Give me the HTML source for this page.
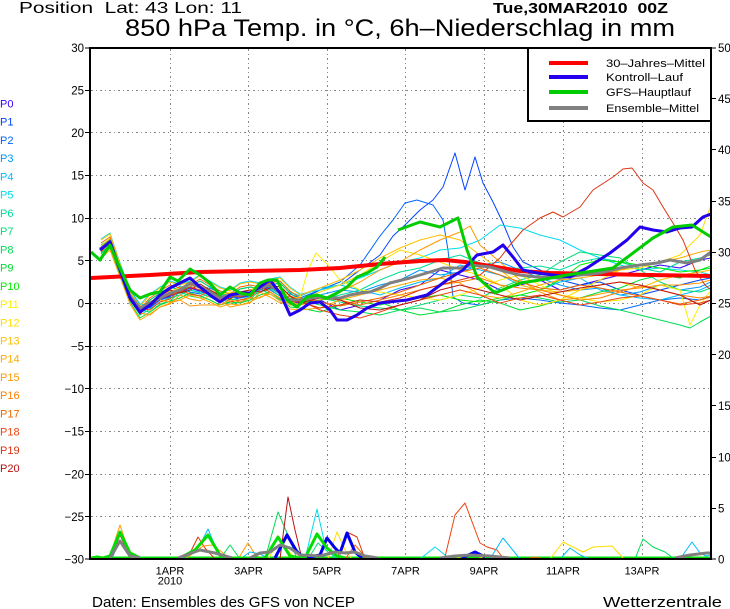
<!DOCTYPE html>
<html><head><meta charset="utf-8"><style>
html,body{margin:0;padding:0;background:#fff;}
svg{display:block;font-family:"Liberation Sans",sans-serif;}
</style></head><body>
<svg width="730" height="609" viewBox="0 0 730 609" xmlns="http://www.w3.org/2000/svg">
<rect width="730" height="609" fill="#fff"/>
<defs>
<clipPath id="pc"><rect x="91" y="49" width="620" height="510"/></clipPath>
<polyline id="ea" fill="none" points="101,249 110,241 120,268 130,295 140,311 150,305 160,298 170,294 180,291 190,286 200,289 210,293 220,298 230,295 240,296 250,293 260,288 270,285 280,292 290,300 300,301"/>
<polyline id="eb" fill="none" points="101,248 110,242 120,272 130,300 140,314 150,303 160,296 170,290 180,293 190,290 200,284 210,290 220,296 230,299 240,292 250,290 260,292 270,288 280,286 290,296 300,303"/>
<polyline id="ec" fill="none" points="101,250 110,240 120,265 130,292 140,306 150,308 160,300 170,297 180,288 190,292 200,294 210,288 220,293 230,300 240,298 250,296 260,285 270,290 280,296 290,294 300,298"/>
</defs>

<!-- header texts -->
<text x="19" y="13" font-size="16" textLength="223" lengthAdjust="spacingAndGlyphs">Position&#160;&#160;Lat: 43 Lon: 11</text>
<text x="493" y="13" font-size="15" font-weight="bold" textLength="175" lengthAdjust="spacingAndGlyphs">Tue,30MAR2010&#160;&#160;00Z</text>
<text x="125" y="36" font-size="24" textLength="550" lengthAdjust="spacingAndGlyphs">850 hPa Temp. in °C, 6h–Niederschlag in mm</text>

<!-- grid -->
<g stroke="#888" stroke-width="1" stroke-dasharray="2,3,1,3" fill="none">
<line x1="91" y1="90.5" x2="711" y2="90.5"/>
<line x1="91" y1="132.5" x2="711" y2="132.5"/>
<line x1="91" y1="175.5" x2="711" y2="175.5"/>
<line x1="91" y1="218.5" x2="711" y2="218.5"/>
<line x1="91" y1="260.5" x2="711" y2="260.5"/>
<line x1="91" y1="303.5" x2="711" y2="303.5"/>
<line x1="91" y1="346.5" x2="711" y2="346.5"/>
<line x1="91" y1="388.5" x2="711" y2="388.5"/>
<line x1="91" y1="431.5" x2="711" y2="431.5"/>
<line x1="91" y1="474.5" x2="711" y2="474.5"/>
<line x1="91" y1="516.5" x2="711" y2="516.5"/>
<line x1="170.5" y1="49" x2="170.5" y2="559"/>
<line x1="248.5" y1="49" x2="248.5" y2="559"/>
<line x1="327.5" y1="49" x2="327.5" y2="559"/>
<line x1="405.5" y1="49" x2="405.5" y2="559"/>
<line x1="484.5" y1="49" x2="484.5" y2="559"/>
<line x1="563.5" y1="49" x2="563.5" y2="559"/>
<line x1="642.5" y1="49" x2="642.5" y2="559"/>
</g>

<g clip-path="url(#pc)" fill="none" stroke-linejoin="round">
<!-- ensemble members: early parts -->
<g stroke-width="1">
<use href="#ea" transform="translate(0,2)" stroke="#3300ff"/>
<use href="#eb" transform="translate(0,-3)" stroke="#0044ff"/>
<use href="#ec" transform="translate(0,0)" stroke="#0066ff"/>
<use href="#ea" transform="translate(0,-1)" stroke="#0099ff"/>
<use href="#ec" transform="translate(0,-2)" stroke="#00bbff"/>
<use href="#eb" transform="translate(0,-9)" stroke="#00ddee"/>
<use href="#ea" transform="translate(0,4)" stroke="#00dd99"/>
<use href="#ec" transform="translate(0,4)" stroke="#00dd77"/>
<use href="#eb" transform="translate(0,-3)" stroke="#00dd55"/>
<use href="#ea" transform="translate(0,7)" stroke="#00dd33"/>
<use href="#eb" transform="translate(0,0)" stroke="#00ee00"/>
<use href="#ea" transform="translate(0,-3)" stroke="#ffee00"/>
<use href="#ec" transform="translate(0,2)" stroke="#ffdd00"/>
<use href="#eb" transform="translate(0,-8)" stroke="#ffc000"/>
<use href="#ea" transform="translate(0,9)" stroke="#ffaa00"/>
<use href="#ec" transform="translate(0,7)" stroke="#ff9900"/>
<use href="#ea" transform="translate(0,-1)" stroke="#ff8000"/>
<use href="#eb" transform="translate(0,-5)" stroke="#ee6600"/>
<use href="#ec" transform="translate(0,2)" stroke="#ee4411"/>
<use href="#ea" transform="translate(0,1)" stroke="#dd3311"/>
<use href="#eb" transform="translate(0,0)" stroke="#bb1111"/>
<polyline stroke="#ff9900" points="160,300 170,302 180,300 190,306 200,305 210,305 220,305 230,300 240,302 250,298 260,298 270,292 280,298 290,305 300,305"/>

<!-- late parts -->
<polyline stroke="#3300ff" points="300,303 320,300 340,310 360,305 380,300 400,290 420,285 440,270 460,275 480,280 500,290 520,285 540,280 560,290 580,285 600,280 620,275 640,270 660,265 680,268 700,260 711,258"/>
<polyline stroke="#0044ff" points="300,300 320,290 340,285 360,270 380,255 393,236 405,225 420,210 433,200 443,187 455,153 465,190 475,157 483,183 493,202 503,223 513,247 523,262 540,270 560,280 580,285 600,282 620,290 640,295 660,290 680,285 700,280 711,278"/>
<polyline stroke="#0066ff" points="300,298 320,290 340,282 360,265 380,236 393,220 405,203 417,200 433,205 443,220 448,250 453,297 463,303 480,305 500,300 520,298 540,300 560,303 580,305 600,308 620,310 640,305 660,300 680,298 700,300 711,296"/>
<polyline stroke="#0099ff" points="300,300 320,295 340,290 360,292 380,285 400,280 420,270 440,275 460,272 480,265 500,262 520,270 540,278 560,285 580,290 600,288 620,295 640,292 660,285 680,290 700,287 711,282"/>
<polyline stroke="#00bbff" points="300,296 320,288 340,285 360,290 380,295 400,288 420,282 440,278 460,265 480,270 500,275 520,285 540,290 560,282 580,278 600,290 620,295 640,298 660,300 680,295 700,290 711,285"/>
<polyline stroke="#00ddee" points="300,294 320,290 340,285 360,278 380,270 400,262 420,258 440,250 460,248 480,240 500,225 520,228 540,235 560,240 580,250 600,258 620,265 640,270 660,268 680,270 700,272 711,275"/>
<polyline stroke="#00dd99" points="300,305 320,300 340,295 360,290 380,280 400,272 420,268 440,260 460,255 480,263 500,270 520,268 540,266 560,270 580,262 600,258 620,262 640,268 660,272 680,262 700,258 711,255"/>
<polyline stroke="#00dd77" points="300,302 320,298 340,302 360,306 380,308 400,310 420,305 440,300 460,295 480,298 500,288 520,280 540,275 560,262 580,252 600,255 620,258 640,270 660,282 680,290 700,292 711,288"/>
<polyline stroke="#00dd55" points="300,300 320,305 340,310 360,312 380,315 400,310 420,308 440,312 460,310 480,305 500,300 520,295 540,298 560,302 580,300 600,306 620,310 640,315 660,320 680,325 690,328 700,322 711,316"/>
<polyline stroke="#00dd33" points="300,308 320,312 340,305 360,300 380,302 400,310 420,315 440,312 460,305 480,300 500,303 520,310 540,306 560,300 580,298 600,292 620,288 640,280 660,275 680,278 700,270 711,268"/>
<polyline stroke="#00ee00" points="300,303 320,300 340,298 360,302 380,305 400,300 420,298 440,295 460,300 480,302 500,298 520,295 540,290 560,280 580,265 600,260 620,262 640,265 660,268 680,272 700,270 711,266"/>
<polyline stroke="#ffee00" points="300,298 308,270 316,253 328,265 340,280 360,290 380,292 400,295 420,298 440,300 460,295 480,288 500,280 520,275 540,285 560,295 580,298 600,302 620,300 640,295 660,285 680,290 690,325 700,305 711,290"/>
<polyline stroke="#ffdd00" points="300,300 320,292 340,285 360,275 380,262 400,250 420,255 440,262 460,270 480,275 500,285 520,300 540,305 560,300 580,290 600,280 620,270 640,268 660,262 680,255 700,235 711,205"/>
<polyline stroke="#ffc000" points="300,295 320,288 340,280 360,270 380,258 400,248 420,240 440,235 460,240 480,255 500,270 520,285 540,290 560,292 580,290 600,285 620,282 640,288 660,280 680,275 700,272 711,270"/>
<polyline stroke="#ffaa00" points="300,310 320,308 340,300 360,295 380,290 400,285 420,280 440,278 460,283 480,295 500,298 520,292 540,285 560,280 580,278 600,275 620,270 640,265 660,262 680,258 700,252 711,250"/>
<polyline stroke="#ff9900" points="300,305 320,300 340,292 360,282 380,270 400,262 420,250 440,240 460,232 470,226 480,245 500,262 520,280 540,292 560,300 580,298 600,294 620,290 640,288 660,285 680,285 700,283 711,280"/>
<polyline stroke="#ff8000" points="300,300 320,296 340,300 360,305 380,300 400,295 420,290 440,285 460,282 480,278 500,285 520,288 540,290 560,295 580,300 600,298 620,292 640,286 660,290 680,295 700,298 711,296"/>
<polyline stroke="#ee6600" points="300,298 320,302 340,306 360,302 380,298 400,292 420,285 440,278 460,272 480,268 500,275 520,282 540,288 560,290 580,285 600,288 620,292 640,296 660,300 680,304 700,300 711,297"/>
<polyline stroke="#ee4411" points="300,300 320,310 340,315 360,318 380,312 400,305 420,300 440,295 460,290 480,295 500,303 520,298 540,295 560,300 580,305 600,302 620,298 640,296 660,300 680,305 700,303 711,300"/>
<polyline stroke="#dd3311" points="300,302 320,308 340,305 360,300 380,302 400,298 420,290 440,285 460,280 480,275 500,258 510,245 523,230 540,218 553,212 563,217 580,207 593,190 613,177 623,169 632,168 643,183 653,190 663,207 673,223 683,240 695,270 705,285 711,290"/>
<polyline stroke="#bb1111" points="300,303 320,298 340,300 360,308 380,310 400,305 420,300 440,290 460,285 480,290 500,295 520,300 540,296 560,292 580,288 600,285 620,282 640,285 660,290 680,295 700,305 711,300"/>
</g>

<!-- precipitation baseline lines -->
<line x1="91" y1="558" x2="711" y2="558" stroke="#0000ee" stroke-width="3"/>
<line x1="91" y1="558" x2="711" y2="558" stroke="#00dd00" stroke-width="3"/>

<!-- precipitation spikes (thin) -->
<g stroke-width="1">
<polyline stroke="#ff9900" points="100,559 110,556 120,525 130,555 140,559"/>
<polyline stroke="#bb1111" points="103,559 112,555 120,535 128,552 138,559"/>
<polyline stroke="#00bbff" points="105,559 113,556 120,540 128,554 136,559"/>
<polyline stroke="#00dd77" points="91,559 97,556 103,558 110,559"/>
<polyline stroke="#dd3311" points="180,559 190,553 198,537 205,548 215,559"/>
<polyline stroke="#00bbff" points="185,559 200,545 208,529 218,553 225,559"/>
<polyline stroke="#ff9900" points="185,559 195,552 203,546 212,545 222,552 230,559"/>
<polyline stroke="#00dd55" points="220,559 230,545 240,559"/>
<polyline stroke="#ff9900" points="238,559 248,543 256,556 265,559"/>
<polyline stroke="#00bbff" points="240,559 250,552 260,554 270,559"/>
<polyline stroke="#00dd55" points="265,559 278,512 290,540 297,559"/>
<polyline stroke="#0066ff" points="275,558 287,533 297,550 305,559"/>
<polyline stroke="#bb1111" points="280,559 288,497 295,530 302,559"/>
<polyline stroke="#ffdd00" points="268,559 275,548 283,545 292,555 300,559"/>
<polyline stroke="#00ddee" points="305,559 317,509 325,545 335,559"/>
<polyline stroke="#00dd77" points="308,559 318,543 328,552 338,559"/>
<polyline stroke="#ffdd00" points="328,559 337,532 345,550 352,559"/>
<polyline stroke="#dd3311" points="338,556 347,532 357,537 365,559"/>
<polyline stroke="#ee6600" points="345,559 355,545 362,553 370,559"/>
<polyline stroke="#00ddee" points="420,559 435,547 450,559"/>
<polyline stroke="#ee4411" points="440,559 445,557 455,515 465,503 480,543 487,547 497,550 503,558"/>
<polyline stroke="#ffdd00" points="455,559 465,555 475,555 485,559"/>
<polyline stroke="#00bbff" points="490,559 503,538 520,559"/>
<polyline stroke="#ee6600" points="525,559 535,557 545,559"/>
<polyline stroke="#ffdd00" points="550,559 563,542 575,548 583,552 593,547 612,546 623,558"/>
<polyline stroke="#00bbff" points="560,559 570,548 580,555 590,559"/>
<polyline stroke="#00dd55" points="635,559 643,539 653,547 665,552 673,558 680,559"/>
<polyline stroke="#00bbff" points="680,559 692,542 700,553 706,556 711,555"/>
</g>
<!-- precipitation thick -->
<polyline stroke="#0000ee" stroke-width="3" points="275,558 287,535 297,552 305,558 320,555 327,538 335,548 340,553 347,533 355,552 362,558"/>
<polyline stroke="#0000ee" stroke-width="3" points="462,558 475,552 485,557"/>
<polyline stroke="#00dd00" stroke-width="3" points="91,558 97,557 103,558 110,556 120,532 130,553 140,558 180,558 195,550 208,535 220,555 228,558 265,558 278,537 290,556 300,558 305,558 317,534 327,548 337,556 345,558"/>
<polyline stroke="#808080" stroke-width="3" points="110,558 120,541 130,556 140,558"/>
<polyline stroke="#808080" stroke-width="3" points="178,558 200,550 215,553 232,558"/>
<polyline stroke="#808080" stroke-width="3" points="250,558 260,553 270,552 280,545 290,548 300,555 320,556 335,552 345,553 355,552 365,556 378,558"/>
<polyline stroke="#808080" stroke-width="3" points="440,558 455,556 470,555 490,556 510,558"/>
<polyline stroke="#808080" stroke-width="3" points="675,558 690,555 707,553 711,553"/>

<!-- thick main lines -->
<polyline stroke="#ff0000" stroke-width="4" points="91,278 150,275 200,272 250,271 300,270 340,268 380,264 420,261 445,260 465,262 490,266 520,271 550,273 600,274 650,275 711,276"/>
<polyline stroke="#808080" stroke-width="3" points="100,249 110,241 120,270 130,296 140,308 150,303 160,298 170,293 180,290 190,283 200,287 210,292 220,298 230,295 240,295 250,293 260,288 270,285 280,293 290,300 300,300 310,298 320,297 330,298 340,298 350,295 360,293 370,292 380,288 390,283 410,278 430,272 443,268 460,268 470,265 490,267 507,272 520,275 537,277 560,278 580,275 600,273 620,268 640,265 657,263 670,260 687,263 700,260 711,252"/>
<polyline stroke="#2200ee" stroke-width="3" points="100,250 110,242 120,270 130,298 140,312 150,305 160,295 170,288 180,283 190,278 200,287 210,295 220,302 230,295 240,293 250,293 260,287 270,280 280,293 290,315 300,310 310,303 320,302 330,310 337,320 347,320 357,315 367,308 380,303 407,300 427,295 447,280 463,270 477,255 493,252 503,245 513,257 523,270 537,273 553,275 570,277 587,268 610,253 627,240 640,227 653,230 667,232 680,228 692,227 703,217 711,214"/>
<polyline stroke="#00cc00" stroke-width="3" points="91,252 100,260 110,245 120,268 130,290 140,298 150,294 160,292 170,277 178,281 190,269 200,275 210,283 220,295 230,287 240,293 250,295 260,283 268,280 277,280 287,300 297,307 307,297 317,295 327,298 337,293 347,287 357,277 367,273 377,267 385,257"/>
<polyline stroke="#00cc00" stroke-width="3" points="398,230 420,222 440,227 458,218 467,250 477,277 495,293 520,283 540,280 567,275 587,272 613,268 633,253 653,238 673,227 692,225 711,237"/>
</g>

<!-- legend -->
<rect x="528" y="48" width="183" height="73" fill="#fff" stroke="#000" stroke-width="2"/>
<g stroke-width="4">
<line x1="549" y1="63" x2="588" y2="63" stroke="#ff0000"/>
<line x1="549" y1="77" x2="588" y2="77" stroke="#2200ee"/>
<line x1="549" y1="92" x2="588" y2="92" stroke="#00cc00"/>
<line x1="549" y1="108" x2="588" y2="108" stroke="#808080"/>
</g>
<g font-size="11" fill="#000">
<text x="606" y="67" textLength="99" lengthAdjust="spacingAndGlyphs">30–Jahres–Mittel</text>
<text x="606" y="81" textLength="77" lengthAdjust="spacingAndGlyphs">Kontroll–Lauf</text>
<text x="606" y="96" textLength="85" lengthAdjust="spacingAndGlyphs">GFS–Hauptlauf</text>
<text x="606" y="112" textLength="93" lengthAdjust="spacingAndGlyphs">Ensemble–Mittel</text>
</g>

<!-- frame -->
<rect x="90" y="48" width="621" height="511" fill="none" stroke="#000" stroke-width="2"/>

<!-- ticks -->
<g stroke="#000" stroke-width="1">
<line x1="85" y1="48" x2="90" y2="48"/><line x1="85" y1="90.5" x2="90" y2="90.5"/><line x1="85" y1="132.5" x2="90" y2="132.5"/><line x1="85" y1="175.5" x2="90" y2="175.5"/><line x1="85" y1="218.5" x2="90" y2="218.5"/><line x1="85" y1="260.5" x2="90" y2="260.5"/><line x1="85" y1="303.5" x2="90" y2="303.5"/><line x1="85" y1="346.5" x2="90" y2="346.5"/><line x1="85" y1="388.5" x2="90" y2="388.5"/><line x1="85" y1="431.5" x2="90" y2="431.5"/><line x1="85" y1="474.5" x2="90" y2="474.5"/><line x1="85" y1="516.5" x2="90" y2="516.5"/><line x1="85" y1="559" x2="90" y2="559"/>
<line x1="711" y1="48" x2="716" y2="48"/><line x1="711" y1="98.5" x2="716" y2="98.5"/><line x1="711" y1="149.5" x2="716" y2="149.5"/><line x1="711" y1="201.5" x2="716" y2="201.5"/><line x1="711" y1="252.5" x2="716" y2="252.5"/><line x1="711" y1="303.5" x2="716" y2="303.5"/><line x1="711" y1="354.5" x2="716" y2="354.5"/><line x1="711" y1="405.5" x2="716" y2="405.5"/><line x1="711" y1="457.5" x2="716" y2="457.5"/><line x1="711" y1="508.5" x2="716" y2="508.5"/><line x1="711" y1="559" x2="716" y2="559"/>
</g>

<!-- left labels -->
<g font-size="11.5" text-anchor="end" fill="#000">
<text x="84" y="52">30</text><text x="84" y="94.5">25</text><text x="84" y="137">20</text><text x="84" y="179.5">15</text><text x="84" y="222.5">10</text><text x="84" y="265">5</text><text x="84" y="307.5">0</text><text x="84" y="350.5">−5</text><text x="84" y="393">−10</text><text x="84" y="435.5">−15</text><text x="84" y="478.5">−20</text><text x="84" y="521">−25</text><text x="84" y="563.5">−30</text>
</g>
<!-- right labels -->
<g font-size="11.5" fill="#000">
<text x="718" y="52">50</text><text x="718" y="103">45</text><text x="718" y="154">40</text><text x="718" y="205.5">35</text><text x="718" y="256.5">30</text><text x="718" y="307.5">25</text><text x="718" y="359">20</text><text x="718" y="410">15</text><text x="718" y="461.5">10</text><text x="718" y="512.5">5</text><text x="718" y="563.5">0</text>
</g>

<!-- P labels -->
<g font-size="11">
<text x="0" y="107.5" fill="#3300ff">P0</text>
<text x="0" y="125.7" fill="#0044ff">P1</text>
<text x="0" y="144" fill="#0066ff">P2</text>
<text x="0" y="162.2" fill="#0099ff">P3</text>
<text x="0" y="180.4" fill="#00bbff">P4</text>
<text x="0" y="198.6" fill="#00ddee">P5</text>
<text x="0" y="216.9" fill="#00dd99">P6</text>
<text x="0" y="235.1" fill="#00dd77">P7</text>
<text x="0" y="253.3" fill="#00dd55">P8</text>
<text x="0" y="271.6" fill="#00dd33">P9</text>
<text x="0" y="289.8" fill="#00ee00">P10</text>
<text x="0" y="308" fill="#ffee00">P11</text>
<text x="0" y="326.3" fill="#ffdd00">P12</text>
<text x="0" y="344.5" fill="#ffc000">P13</text>
<text x="0" y="362.7" fill="#ffaa00">P14</text>
<text x="0" y="381" fill="#ff9900">P15</text>
<text x="0" y="399.2" fill="#ff8000">P16</text>
<text x="0" y="417.4" fill="#ee6600">P17</text>
<text x="0" y="435.6" fill="#ee4411">P18</text>
<text x="0" y="453.8" fill="#dd3311">P19</text>
<text x="0" y="472" fill="#bb1111">P20</text>
</g>

<!-- date labels -->
<g font-size="11" text-anchor="middle" fill="#000">
<text x="170" y="574.5">1APR</text>
<text x="170" y="584.5">2010</text>
<text x="248.5" y="574.5">3APR</text>
<text x="327" y="574.5">5APR</text>
<text x="405.5" y="574.5">7APR</text>
<text x="484" y="574.5">9APR</text>
<text x="563" y="574.5">11APR</text>
<text x="642" y="574.5">13APR</text>
</g>

<!-- footer -->
<text x="92" y="607" font-size="14.5" textLength="263" lengthAdjust="spacingAndGlyphs">Daten: Ensembles des GFS von NCEP</text>
<text x="603" y="607" font-size="14.5" textLength="119" lengthAdjust="spacingAndGlyphs">Wetterzentrale</text>
</svg>
</body></html>
